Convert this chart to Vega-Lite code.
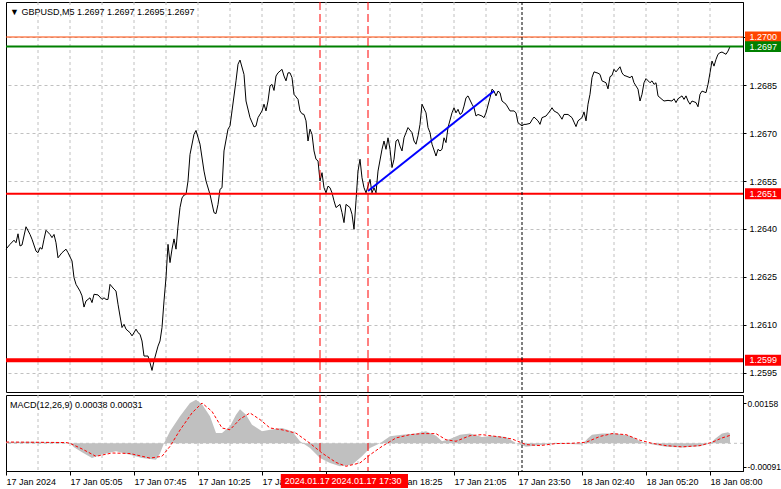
{
  "$schema": "https://vega.github.io/schema/vega-lite/v6.json",
  "background": "white",
  "padding": {"left": 3, "top": 1, "right": 0, "bottom": 0},
  "spacing": 1,
  "config": {
    "view": {"stroke": "#000000", "strokeWidth": 1},
    "axis": {"labelFont": "Liberation Sans", "labelFontSize": 9, "labelColor": "#000000", "domainColor": "#000000", "tickColor": "#000000", "gridColor": "#C0C0C0", "gridDash": [3, 3]},
    "text": {"font": "Liberation Sans", "fontSize": 9}
  },
  "datasets": {
    "one": [{}],
    "price": [
      {"i":0,"p":1.26337},{"i":2,"p":1.26352},{"i":4,"p":1.26365},{"i":5,"p":1.26357},{"i":6,"p":1.26385},{"i":7,"p":1.26347},{"i":8,"p":1.26350},{"i":10,"p":1.26407},{"i":12,"p":1.26383},{"i":13,"p":1.26368},{"i":15,"p":1.26331},{"i":16,"p":1.26326},{"i":17,"p":1.26342},{"i":18,"p":1.26337},{"i":19,"p":1.26368},{"i":20,"p":1.26396},{"i":22,"p":1.26383},{"i":23,"p":1.26373},{"i":24,"p":1.26383},{"i":25,"p":1.26357},{"i":26,"p":1.26310},{"i":28,"p":1.26326},{"i":30,"p":1.26337},{"i":31,"p":1.26326},{"i":33,"p":1.26300},{"i":34,"p":1.26248},{"i":35,"p":1.26227},{"i":37,"p":1.26206},{"i":38,"p":1.26191},{"i":39,"p":1.26156},{"i":40,"p":1.26175},{"i":42,"p":1.26185},{"i":43,"p":1.26170},{"i":44,"p":1.26196},{"i":46,"p":1.26194},{"i":48,"p":1.26180},{"i":49,"p":1.26185},{"i":50,"p":1.26180},{"i":51,"p":1.26180},{"i":52,"p":1.26227},{"i":54,"p":1.26212},{"i":55,"p":1.26206},{"i":56,"p":1.26165},{"i":57,"p":1.26128},{"i":58,"p":1.26092},{"i":59,"p":1.26102},{"i":60,"p":1.26087},{"i":62,"p":1.26076},{"i":63,"p":1.26066},{"i":64,"p":1.26076},{"i":65,"p":1.26087},{"i":66,"p":1.26076},{"i":67,"p":1.26071},{"i":68,"p":1.26050},{"i":69,"p":1.26003},{"i":70,"p":1.26003},{"i":71,"p":1.26003},{"i":72,"p":1.25982},{"i":73,"p":1.25958},{"i":74,"p":1.25988},{"i":76,"p":1.26034},{"i":77,"p":1.26050},{"i":78,"p":1.26092},{"i":79,"p":1.26175},{"i":80,"p":1.26248},{"i":81,"p":1.26352},{"i":82,"p":1.26295},{"i":83,"p":1.26337},{"i":84,"p":1.26369},{"i":85,"p":1.26337},{"i":86,"p":1.26409},{"i":87,"p":1.26467},{"i":88,"p":1.26497},{"i":89,"p":1.26506},{"i":90,"p":1.26508},{"i":91,"p":1.26550},{"i":92,"p":1.26633},{"i":94,"p":1.26696},{"i":95,"p":1.26708},{"i":97,"p":1.26665},{"i":99,"p":1.26581},{"i":100,"p":1.26550},{"i":102,"p":1.26508},{"i":104,"p":1.26451},{"i":105,"p":1.26448},{"i":106,"p":1.26477},{"i":107,"p":1.26524},{"i":108,"p":1.26529},{"i":109,"p":1.26644},{"i":111,"p":1.26712},{"i":112,"p":1.26722},{"i":113,"p":1.26769},{"i":115,"p":1.26863},{"i":116,"p":1.26915},{"i":117,"p":1.26928},{"i":119,"p":1.26883},{"i":120,"p":1.26800},{"i":122,"p":1.26748},{"i":124,"p":1.26719},{"i":125,"p":1.26722},{"i":126,"p":1.26748},{"i":128,"p":1.26769},{"i":129,"p":1.26790},{"i":130,"p":1.26769},{"i":131,"p":1.26800},{"i":132,"p":1.26847},{"i":133,"p":1.26852},{"i":134,"p":1.26833},{"i":135,"p":1.26878},{"i":136,"p":1.26888},{"i":138,"p":1.26899},{"i":139,"p":1.26878},{"i":140,"p":1.26863},{"i":141,"p":1.26888},{"i":142,"p":1.26888},{"i":143,"p":1.26873},{"i":144,"p":1.26821},{"i":146,"p":1.26805},{"i":147,"p":1.26769},{"i":148,"p":1.26760},{"i":149,"p":1.26758},{"i":150,"p":1.26738},{"i":151,"p":1.26675},{"i":152,"p":1.26712},{"i":153,"p":1.26696},{"i":154,"p":1.26644},{"i":155,"p":1.26618},{"i":156,"p":1.26613},{"i":157,"p":1.26550},{"i":158,"p":1.26576},{"i":159,"p":1.26529},{"i":160,"p":1.26513},{"i":161,"p":1.26534},{"i":162,"p":1.26529},{"i":163,"p":1.26513},{"i":164,"p":1.26488},{"i":165,"p":1.26467},{"i":167,"p":1.26477},{"i":168,"p":1.26451},{"i":169,"p":1.26420},{"i":170,"p":1.26477},{"i":172,"p":1.26467},{"i":173,"p":1.26446},{"i":174,"p":1.26399},{"i":175,"p":1.26488},{"i":176,"p":1.26581},{"i":177,"p":1.26618},{"i":178,"p":1.26560},{"i":179,"p":1.26529},{"i":180,"p":1.26513},{"i":182,"p":1.26555},{"i":183,"p":1.26513},{"i":184,"p":1.26529},{"i":185,"p":1.26513},{"i":186,"p":1.26581},{"i":188,"p":1.26649},{"i":189,"p":1.26675},{"i":190,"p":1.26649},{"i":191,"p":1.26685},{"i":192,"p":1.26649},{"i":193,"p":1.26592},{"i":194,"p":1.26618},{"i":195,"p":1.26675},{"i":196,"p":1.26680},{"i":197,"p":1.26659},{"i":198,"p":1.26644},{"i":199,"p":1.26685},{"i":200,"p":1.26701},{"i":201,"p":1.26717},{"i":203,"p":1.26701},{"i":204,"p":1.26675},{"i":205,"p":1.26665},{"i":206,"p":1.26691},{"i":207,"p":1.26727},{"i":208,"p":1.26790},{"i":210,"p":1.26763},{"i":211,"p":1.26717},{"i":212,"p":1.26701},{"i":213,"p":1.26665},{"i":215,"p":1.26628},{"i":216,"p":1.26649},{"i":217,"p":1.26644},{"i":218,"p":1.26649},{"i":219,"p":1.26685},{"i":220,"p":1.26670},{"i":221,"p":1.26717},{"i":223,"p":1.26763},{"i":224,"p":1.26779},{"i":225,"p":1.26763},{"i":226,"p":1.26774},{"i":227,"p":1.26758},{"i":228,"p":1.26763},{"i":229,"p":1.26784},{"i":230,"p":1.26810},{"i":231,"p":1.26816},{"i":233,"p":1.26790},{"i":234,"p":1.26779},{"i":235,"p":1.26753},{"i":236,"p":1.26758},{"i":238,"p":1.26753},{"i":239,"p":1.26748},{"i":240,"p":1.26763},{"i":242,"p":1.26810},{"i":243,"p":1.26837},{"i":244,"p":1.26831},{"i":245,"p":1.26816},{"i":246,"p":1.26831},{"i":247,"p":1.26826},{"i":248,"p":1.26800},{"i":249,"p":1.26795},{"i":250,"p":1.26790},{"i":252,"p":1.26769},{"i":253,"p":1.26769},{"i":254,"p":1.26769},{"i":255,"p":1.26763},{"i":256,"p":1.26732},{"i":258,"p":1.26722},{"i":259,"p":1.26727},{"i":260,"p":1.26727},{"i":262,"p":1.26730},{"i":263,"p":1.26741},{"i":264,"p":1.26750},{"i":266,"p":1.26738},{"i":267,"p":1.26727},{"i":268,"p":1.26748},{"i":270,"p":1.26753},{"i":272,"p":1.26769},{"i":273,"p":1.26779},{"i":274,"p":1.26769},{"i":276,"p":1.26762},{"i":277,"p":1.26753},{"i":278,"p":1.26743},{"i":279,"p":1.26758},{"i":281,"p":1.26758},{"i":283,"p":1.26748},{"i":284,"p":1.26734},{"i":285,"p":1.26720},{"i":286,"p":1.26738},{"i":288,"p":1.26748},{"i":289,"p":1.26766},{"i":290,"p":1.26738},{"i":291,"p":1.26790},{"i":292,"p":1.26821},{"i":293,"p":1.26873},{"i":294,"p":1.26891},{"i":296,"p":1.26887},{"i":297,"p":1.26883},{"i":298,"p":1.26863},{"i":300,"p":1.26857},{"i":301,"p":1.26838},{"i":302,"p":1.26876},{"i":303,"p":1.26880},{"i":304,"p":1.26899},{"i":305,"p":1.26891},{"i":307,"p":1.26907},{"i":308,"p":1.26888},{"i":309,"p":1.26880},{"i":310,"p":1.26878},{"i":312,"p":1.26873},{"i":313,"p":1.26878},{"i":314,"p":1.26857},{"i":316,"p":1.26837},{"i":317,"p":1.26800},{"i":318,"p":1.26821},{"i":319,"p":1.26857},{"i":320,"p":1.26870},{"i":322,"p":1.26857},{"i":323,"p":1.26863},{"i":324,"p":1.26852},{"i":325,"p":1.26857},{"i":326,"p":1.26816},{"i":328,"p":1.26805},{"i":329,"p":1.26800},{"i":331,"p":1.26802},{"i":333,"p":1.26800},{"i":334,"p":1.26807},{"i":335,"p":1.26795},{"i":336,"p":1.26807},{"i":338,"p":1.26816},{"i":339,"p":1.26805},{"i":340,"p":1.26816},{"i":341,"p":1.26800},{"i":342,"p":1.26790},{"i":343,"p":1.26800},{"i":345,"p":1.26795},{"i":346,"p":1.26782},{"i":347,"p":1.26821},{"i":348,"p":1.26831},{"i":350,"p":1.26826},{"i":351,"p":1.26852},{"i":352,"p":1.26888},{"i":353,"p":1.26925},{"i":354,"p":1.26909},{"i":355,"p":1.26930},{"i":356,"p":1.26946},{"i":357,"p":1.26951},{"i":358,"p":1.26953},{"i":360,"p":1.26946},{"i":361,"p":1.26956},{"i":362,"p":1.26970}
    ],
    "hist": [
      {"i":0,"h":0.00005},{"i":13,"h":0.00006},{"i":28,"h":0.00004},{"i":32,"h":0},{"i":34,"h":-0.00015},{"i":38,"h":-0.00035},{"i":43,"h":-0.00058},{"i":48,"h":-0.00044},{"i":55,"h":-0.00031},{"i":62,"h":-0.00045},{"i":68,"h":-0.00058},{"i":75,"h":-0.00064},{"i":77,"h":-0.0004},{"i":79,"h":0},{"i":82,"h":0.00047},{"i":87,"h":0.00106},{"i":92,"h":0.00158},{"i":95,"h":0.00171},{"i":98,"h":0.00153},{"i":102,"h":0.00106},{"i":105,"h":0.0004},{"i":108,"h":0.0004},{"i":112,"h":0.00067},{"i":115,"h":0.00112},{"i":117,"h":0.00134},{"i":120,"h":0.00112},{"i":123,"h":0.00073},{"i":128,"h":0.00047},{"i":132,"h":0.00053},{"i":138,"h":0.0006},{"i":143,"h":0.00047},{"i":147,"h":0.00008},{"i":152,"h":-0.00018},{"i":157,"h":-0.00058},{"i":162,"h":-0.00077},{"i":167,"h":-0.0009},{"i":173,"h":-0.00084},{"i":178,"h":-0.00051},{"i":182,"h":-0.00018},{"i":187,"h":0},{"i":192,"h":0.00028},{"i":198,"h":0.00034},{"i":205,"h":0.00038},{"i":210,"h":0.00047},{"i":215,"h":0.0003},{"i":218,"h":0.00008},{"i":222,"h":0.00017},{"i":227,"h":0.00034},{"i":232,"h":0.00038},{"i":238,"h":0.00025},{"i":243,"h":0.0003},{"i":250,"h":0.00025},{"i":255,"h":0},{"i":260,"h":-0.00014},{"i":265,"h":-0.00009},{"i":272,"h":-0.00003},{"i":282,"h":-0.00003},{"i":288,"h":-0.00005},{"i":291,"h":0.0002},{"i":293,"h":0.00034},{"i":298,"h":0.00038},{"i":305,"h":0.00038},{"i":312,"h":0.0003},{"i":317,"h":0.00008},{"i":322,"h":-0.00003},{"i":330,"h":-0.00014},{"i":338,"h":-0.00016},{"i":347,"h":-0.00012},{"i":352,"h":-0.00001},{"i":355,"h":0.00021},{"i":358,"h":0.00038},{"i":361,"h":0.00043},{"i":362,"h":0.00038}
    ],
    "signal": [
      {"i":0,"s":0.00005},{"i":30,"s":0.00003},{"i":32,"s":0},{"i":38,"s":-0.00022},{"i":45,"s":-0.00051},{"i":53,"s":-0.00038},{"i":62,"s":-0.0004},{"i":72,"s":-0.00058},{"i":78,"s":-0.00051},{"i":82,"s":-0.00012},{"i":87,"s":0.00052},{"i":93,"s":0.00119},{"i":98,"s":0.00158},{"i":103,"s":0.00125},{"i":108,"s":0.0006},{"i":112,"s":0.00053},{"i":117,"s":0.00095},{"i":122,"s":0.00119},{"i":127,"s":0.00093},{"i":132,"s":0.0006},{"i":138,"s":0.00053},{"i":145,"s":0.0004},{"i":152,"s":0},{"i":158,"s":-0.00038},{"i":165,"s":-0.00075},{"i":170,"s":-0.0009},{"i":177,"s":-0.00077},{"i":182,"s":-0.00045},{"i":188,"s":-0.00012},{"i":195,"s":0.00021},{"i":202,"s":0.00034},{"i":208,"s":0.00038},{"i":215,"s":0.00038},{"i":220,"s":0.00014},{"i":225,"s":0.00008},{"i":232,"s":0.0003},{"i":238,"s":0.00034},{"i":247,"s":0.00025},{"i":253,"s":0.00017},{"i":260,"s":-0.00005},{"i":267,"s":-0.00009},{"i":275,"s":-0.00001},{"i":283,"s":0},{"i":290,"s":0.00004},{"i":297,"s":0.00027},{"i":303,"s":0.00038},{"i":310,"s":0.00034},{"i":317,"s":0.00012},{"i":323,"s":0},{"i":330,"s":-0.00009},{"i":338,"s":-0.00014},{"i":347,"s":-0.00009},{"i":353,"s":0.00004},{"i":358,"s":0.00021},{"i":362,"s":0.00031}
    ],
    "vgrid": [
      {"g":16},{"g":32},{"g":48},{"g":64},{"g":80},{"g":96},{"g":112},{"g":128},{"g":144},{"g":160},{"g":176},{"g":192},{"g":208},{"g":224},{"g":240},{"g":256},{"g":272},{"g":288},{"g":304},{"g":320},{"g":336},{"g":352}
    ],
    "trend": [{"i":181,"p":1.26519},{"i":244,"p":1.26831}],
    "events": [{"i":157},{"i":181}]
  },
  "vconcat": [
    {
      "width": 737,
      "height": 390,
      "layer": [
        {
          "data": {"name": "vgrid"},
          "mark": {"type": "rule", "stroke": "#C0C0C0", "strokeDash": [3, 3], "strokeWidth": 1},
          "encoding": {"x": {"field": "g", "type": "quantitative", "scale": {"domain": [0, 368.5], "nice": false, "zero": false}, "axis": null}}
        },
        {
          "data": {"name": "price"},
          "mark": {"type": "line", "color": "#000000", "strokeWidth": 1},
          "encoding": {
            "x": {"field": "i", "type": "quantitative", "scale": {"domain": [0, 368.5], "nice": false, "zero": false}, "axis": null},
            "y": {"field": "p", "type": "quantitative", "scale": {"domain": [1.258906, 1.271094], "nice": false, "zero": false},
              "axis": {"orient": "right", "values": [1.2595, 1.261, 1.2625, 1.264, 1.2655, 1.267, 1.2685, 1.27], "format": ".4f", "grid": true, "gridDash": [3, 3], "gridColor": "#C0C0C0", "tickSize": 3, "labelPadding": 3, "title": null}}
          }
        },
        {
          "data": {"name": "one"},
          "mark": {"type": "rule", "stroke": "#FF4500", "strokeWidth": 1},
          "encoding": {"y": {"datum": 1.27}}
        },
        {
          "data": {"name": "one"},
          "mark": {"type": "rule", "stroke": "#008000", "strokeWidth": 2},
          "encoding": {"y": {"datum": 1.2697}}
        },
        {
          "data": {"name": "one"},
          "mark": {"type": "rule", "stroke": "#FF0000", "strokeWidth": 2},
          "encoding": {"y": {"datum": 1.2651}}
        },
        {
          "data": {"name": "one"},
          "mark": {"type": "rule", "stroke": "#FF0000", "strokeWidth": 4},
          "encoding": {"y": {"datum": 1.2599}}
        },
        {
          "data": {"name": "trend"},
          "mark": {"type": "line", "color": "#0000FF", "strokeWidth": 2},
          "encoding": {
            "x": {"field": "i", "type": "quantitative", "axis": null},
            "y": {"field": "p", "type": "quantitative"}
          }
        },
        {
          "data": {"name": "events"},
          "mark": {"type": "rule", "stroke": "#FF0000", "strokeDash": [8, 4], "strokeWidth": 1},
          "encoding": {"x": {"field": "i", "type": "quantitative", "axis": null}}
        },
        {
          "data": {"name": "one"},
          "mark": {"type": "rule", "stroke": "#000000", "strokeDash": [3, 2], "strokeWidth": 1},
          "encoding": {"x": {"datum": 258, "axis": null}}
        },
        {
          "data": {"name": "one"},
          "mark": {"type": "text", "align": "left", "baseline": "middle", "color": "#000000", "font": "Liberation Sans", "fontSize": 9},
          "encoding": {"x": {"datum": 2, "axis": null}, "y": {"datum": 1.27078}, "text": {"value": "▼  GBPUSD,M5  1.2697 1.2697 1.2695 1.2697"}}
        },
        {
          "data": {"name": "one"},
          "mark": {"type": "rect", "color": "#FF4500"},
          "encoding": {"x": {"datum": 369.5, "axis": null}, "x2": {"datum": 390}, "y": {"datum": 1.27017}, "y2": {"datum": 1.26983}}
        },
        {
          "data": {"name": "one"},
          "mark": {"type": "text", "align": "left", "baseline": "middle", "color": "#FFFFFF", "font": "Liberation Sans", "fontSize": 9},
          "encoding": {"x": {"datum": 371.8, "axis": null}, "y": {"datum": 1.27}, "text": {"value": "1.2700"}}
        },
        {
          "data": {"name": "one"},
          "mark": {"type": "rect", "color": "#008000"},
          "encoding": {"x": {"datum": 369.5, "axis": null}, "x2": {"datum": 390}, "y": {"datum": 1.26987}, "y2": {"datum": 1.26953}}
        },
        {
          "data": {"name": "one"},
          "mark": {"type": "text", "align": "left", "baseline": "middle", "color": "#FFFFFF", "font": "Liberation Sans", "fontSize": 9},
          "encoding": {"x": {"datum": 371.8, "axis": null}, "y": {"datum": 1.2697}, "text": {"value": "1.2697"}}
        },
        {
          "data": {"name": "one"},
          "mark": {"type": "rect", "color": "#FF0000"},
          "encoding": {"x": {"datum": 369.5, "axis": null}, "x2": {"datum": 390}, "y": {"datum": 1.26527}, "y2": {"datum": 1.26493}}
        },
        {
          "data": {"name": "one"},
          "mark": {"type": "text", "align": "left", "baseline": "middle", "color": "#FFFFFF", "font": "Liberation Sans", "fontSize": 9},
          "encoding": {"x": {"datum": 371.8, "axis": null}, "y": {"datum": 1.2651}, "text": {"value": "1.2651"}}
        },
        {
          "data": {"name": "one"},
          "mark": {"type": "rect", "color": "#FF0000"},
          "encoding": {"x": {"datum": 369.5, "axis": null}, "x2": {"datum": 390}, "y": {"datum": 1.26007}, "y2": {"datum": 1.25973}}
        },
        {
          "data": {"name": "one"},
          "mark": {"type": "text", "align": "left", "baseline": "middle", "color": "#FFFFFF", "font": "Liberation Sans", "fontSize": 9},
          "encoding": {"x": {"datum": 371.8, "axis": null}, "y": {"datum": 1.2599}, "text": {"value": "1.2599"}}
        }
      ]
    },
    {
      "width": 737,
      "height": 76,
      "layer": [
        {
          "data": {"name": "hist"},
          "mark": {"type": "area", "color": "#C0C0C0", "opacity": 0},
          "encoding": {
            "x": {"field": "i", "type": "quantitative", "scale": {"domain": [0, 368.5], "nice": false, "zero": false},
              "axis": {"orient": "bottom", "values": [0, 32, 64, 96, 128, 160, 192, 224, 256, 288, 320, 352], "labelExpr": "['17 Jan 2024','17 Jan 05:05','17 Jan 07:45','17 Jan 10:25','17 Jan 13:05','17 Jan 15:45','17 Jan 18:25','17 Jan 21:05','17 Jan 23:50','18 Jan 02:40','18 Jan 05:20','18 Jan 08:00'][round(datum.value/32)]", "labelAlign": "left", "labelBaseline": "top", "labelDx": 1, "labelPadding": 2, "labelFlush": false, "labelOverlap": false, "tickSize": 4, "grid": false, "title": null}},
            "y": {"field": "h", "type": "quantitative", "scale": {"domain": [-0.001086, 0.001894], "nice": false, "zero": false},
              "axis": {"orient": "right", "values": [0.00158, 0, -0.00091], "labelExpr": "datum.value > 0 ? '0.00158' : (datum.value < 0 ? '-0.00091' : '0.00')", "grid": false, "tickSize": 3, "labelPadding": 1, "labelFontSize": 8.5, "title": null}},
            "y2": {"datum": 0}
          }
        },
        {
          "data": {"name": "vgrid"},
          "mark": {"type": "rule", "stroke": "#C0C0C0", "strokeDash": [3, 3], "strokeWidth": 1},
          "encoding": {"x": {"field": "g", "type": "quantitative"}}
        },
        {
          "data": {"name": "one"},
          "mark": {"type": "rule", "stroke": "#C0C0C0", "strokeDash": [3, 3], "strokeWidth": 1},
          "encoding": {"y": {"datum": 0}}
        },
        {
          "data": {"name": "hist"},
          "mark": {"type": "area", "color": "#C0C0C0", "opacity": 1},
          "encoding": {
            "x": {"field": "i", "type": "quantitative"},
            "y": {"field": "h", "type": "quantitative"},
            "y2": {"datum": 0}
          }
        },
        {
          "data": {"name": "signal"},
          "mark": {"type": "line", "color": "#FF0000", "strokeWidth": 1, "strokeDash": [3, 2]},
          "encoding": {
            "x": {"field": "i", "type": "quantitative"},
            "y": {"field": "s", "type": "quantitative"}
          }
        },
        {
          "data": {"name": "events"},
          "mark": {"type": "rule", "stroke": "#FF0000", "strokeDash": [8, 4], "strokeWidth": 1},
          "encoding": {"x": {"field": "i", "type": "quantitative"}}
        },
        {
          "data": {"name": "one"},
          "mark": {"type": "rule", "stroke": "#000000", "strokeDash": [3, 2], "strokeWidth": 1},
          "encoding": {"x": {"datum": 258}}
        },
        {
          "data": {"name": "one"},
          "mark": {"type": "text", "align": "left", "baseline": "middle", "color": "#000000", "font": "Liberation Sans", "fontSize": 9},
          "encoding": {"x": {"datum": 2}, "y": {"datum": 0.00151}, "text": {"value": "MACD(12,26,9) 0.00038 0.00031"}}
        },
        {
          "data": {"name": "one"},
          "mark": {"type": "rect", "color": "#FF0000"},
          "encoding": {"x": {"datum": 137.4}, "x2": {"datum": 176.5}, "y": {"datum": -0.0012}, "y2": {"datum": -0.00175}}
        },
        {
          "data": {"name": "one"},
          "mark": {"type": "text", "align": "left", "baseline": "middle", "color": "#FFFFFF", "font": "Liberation Sans", "fontSize": 9},
          "encoding": {"x": {"datum": 139.4}, "y": {"datum": -0.00148}, "text": {"value": "2024.01.17"}}
        },
        {
          "data": {"name": "one"},
          "mark": {"type": "rect", "color": "#FF0000"},
          "encoding": {"x": {"datum": 162}, "x2": {"datum": 201}, "y": {"datum": -0.0012}, "y2": {"datum": -0.00175}}
        },
        {
          "data": {"name": "one"},
          "mark": {"type": "text", "align": "left", "baseline": "middle", "color": "#FFFFFF", "font": "Liberation Sans", "fontSize": 9},
          "encoding": {"x": {"datum": 162.7}, "y": {"datum": -0.00148}, "text": {"value": "2024.01.17 17:30"}}
        }
      ]
    }
  ]
}
